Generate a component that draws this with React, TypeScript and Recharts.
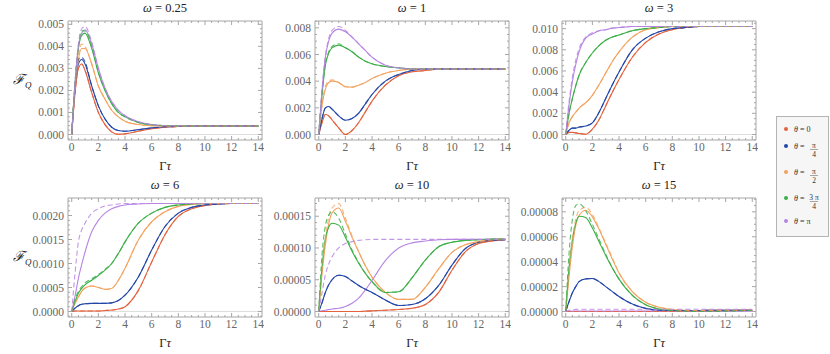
import React from 'react';
import { LineChart, Line, XAxis, YAxis, ReferenceLine } from 'recharts';

// sample times (Γτ)
const TAU = [0, 0.25, 0.5, 0.75, 1, 1.5, 2, 2.5, 3, 3.5, 4, 5, 6, 7, 8, 9, 10, 11, 12, 13, 14];
const X_TICKS = [0, 2, 4, 6, 8, 10, 12, 14];
const THETA_LABELS = [['0'], ['π', '4'], ['π', '2'], ['3 π', '4'], ['π']];
// order of every series list: θ = 0, π/4, π/2, 3π/4, π
const COLORS = ['#E4633F', '#2347A8', '#F3A35F', '#3BAF46', '#B785E2'];

// ω = 0.25
const W025_SOLID = [
  [0, 0.0019, 0.003, 0.0032, 0.0029, 0.0019, 0.001, 0.00045, 0.00012, 0.00001, 0.00003, 0.00015, 0.00026, 0.00033, 0.00036, 0.00037, 0.00038, 0.00038, 0.00038, 0.00038, 0.00038],
  [0, 0.0021, 0.0032, 0.0034, 0.0032, 0.0022, 0.0013, 0.0007, 0.00033, 0.00018, 0.00015, 0.00022, 0.0003, 0.00035, 0.00037, 0.00038, 0.00038, 0.00038, 0.00038, 0.00038, 0.00038],
  [0, 0.0021, 0.0034, 0.0039, 0.0039, 0.0032, 0.0022, 0.0016, 0.0011, 0.0008, 0.0006, 0.00045, 0.0004, 0.00039, 0.00038, 0.00038, 0.00038, 0.00038, 0.00038, 0.00038, 0.00038],
  [0, 0.0023, 0.0039, 0.0045, 0.0046, 0.0039, 0.0028, 0.002, 0.0014, 0.001, 0.0008, 0.00055, 0.00044, 0.0004, 0.00039, 0.00038, 0.00038, 0.00038, 0.00038, 0.00038, 0.00038],
  [0, 0.0023, 0.004, 0.0046, 0.00475, 0.0041, 0.003, 0.0021, 0.0015, 0.0011, 0.00085, 0.00058, 0.00045, 0.0004, 0.00039, 0.00038, 0.00038, 0.00038, 0.00038, 0.00038, 0.00038],
];
const W025_DASHED = [
  W025_SOLID[0],
  [0, 0.0022, 0.0034, 0.0035, 0.0033, 0.0022, 0.0013, 0.0007, 0.00033, 0.00018, 0.00015, 0.00022, 0.0003, 0.00035, 0.00037, 0.00038, 0.00038, 0.00038, 0.00038, 0.00038, 0.00038],
  [0, 0.0022, 0.0036, 0.0041, 0.004, 0.0032, 0.0022, 0.0016, 0.0011, 0.0008, 0.0006, 0.00045, 0.0004, 0.00039, 0.00038, 0.00038, 0.00038, 0.00038, 0.00038, 0.00038, 0.00038],
  [0, 0.0024, 0.004, 0.0047, 0.0047, 0.004, 0.0028, 0.002, 0.0014, 0.001, 0.0008, 0.00055, 0.00044, 0.0004, 0.00039, 0.00038, 0.00038, 0.00038, 0.00038, 0.00038, 0.00038],
  [0, 0.0024, 0.0041, 0.0048, 0.0049, 0.0042, 0.003, 0.0021, 0.0015, 0.0011, 0.00085, 0.00058, 0.00045, 0.0004, 0.00039, 0.00038, 0.00038, 0.00038, 0.00038, 0.00038, 0.00038],
];

// ω = 1
const W1_SOLID = [
  [0, 0.0009, 0.0015, 0.0014, 0.0011, 0.0005, 0, 0.0003, 0.0009, 0.0017, 0.0025, 0.0037, 0.0044, 0.0047, 0.0048, 0.0049, 0.0049, 0.0049, 0.0049, 0.0049, 0.0049],
  [0, 0.0012, 0.002, 0.0021, 0.0019, 0.0014, 0.00107, 0.0012, 0.0016, 0.0023, 0.003, 0.004, 0.0045, 0.0048, 0.0049, 0.0049, 0.0049, 0.0049, 0.0049, 0.0049, 0.0049],
  [0, 0.0022, 0.0034, 0.0039, 0.004, 0.0039, 0.00358, 0.00355, 0.0037, 0.0039, 0.0042, 0.0046, 0.0048, 0.0049, 0.0049, 0.0049, 0.0049, 0.0049, 0.0049, 0.0049, 0.0049],
  [0, 0.003, 0.0052, 0.0061, 0.0065, 0.0067, 0.0065, 0.0062, 0.0058, 0.0055, 0.0053, 0.0051, 0.005, 0.0049, 0.0049, 0.0049, 0.0049, 0.0049, 0.0049, 0.0049, 0.0049],
  [0, 0.0033, 0.0058, 0.007, 0.0076, 0.0079, 0.0077, 0.0073, 0.0068, 0.0063, 0.0058, 0.0052, 0.005, 0.0049, 0.0049, 0.0049, 0.0049, 0.0049, 0.0049, 0.0049, 0.0049],
];
const W1_DASHED = [
  W1_SOLID[0],
  W1_SOLID[1],
  [0, 0.0023, 0.0036, 0.004, 0.0041, 0.0039, 0.00358, 0.00355, 0.0037, 0.0039, 0.0042, 0.0046, 0.0048, 0.0049, 0.0049, 0.0049, 0.0049, 0.0049, 0.0049, 0.0049, 0.0049],
  [0, 0.0031, 0.0053, 0.0062, 0.0066, 0.0068, 0.0065, 0.0062, 0.0058, 0.0055, 0.0053, 0.0051, 0.005, 0.0049, 0.0049, 0.0049, 0.0049, 0.0049, 0.0049, 0.0049, 0.0049],
  [0, 0.0034, 0.0059, 0.0072, 0.0078, 0.0081, 0.0078, 0.0073, 0.0068, 0.0063, 0.0058, 0.0052, 0.005, 0.0049, 0.0049, 0.0049, 0.0049, 0.0049, 0.0049, 0.0049, 0.0049],
];

// ω = 3
const W3_SOLID = [
  [0, 0.0002, 0.0002, 0.00015, 0.0001, 0.00003, 0.0005, 0.0014, 0.0027, 0.004, 0.0052, 0.0073, 0.0087, 0.0095, 0.0099, 0.0101, 0.0102, 0.0102, 0.0102, 0.0102, 0.0102],
  [0, 0.0004, 0.0006, 0.0006, 0.0007, 0.0008, 0.0011, 0.0021, 0.0034, 0.0047, 0.0059, 0.008, 0.0091, 0.0097, 0.01, 0.0101, 0.0102, 0.0102, 0.0102, 0.0102, 0.0102],
  [0, 0.0011, 0.0017, 0.0021, 0.0025, 0.003, 0.0037, 0.0047, 0.0058, 0.0069, 0.0078, 0.0092, 0.0099, 0.0101, 0.0102, 0.0102, 0.0102, 0.0102, 0.0102, 0.0102, 0.0102],
  [0, 0.002, 0.0034, 0.0046, 0.0056, 0.0068, 0.0077, 0.0084, 0.0089, 0.0092, 0.0094, 0.0098, 0.01, 0.0101, 0.0102, 0.0102, 0.0102, 0.0102, 0.0102, 0.0102, 0.0102],
  [0, 0.0028, 0.005, 0.0066, 0.0078, 0.0091, 0.0095, 0.0098, 0.0099, 0.01005, 0.0101, 0.0102, 0.0102, 0.0102, 0.0102, 0.0102, 0.0102, 0.0102, 0.0102, 0.0102, 0.0102],
];
const W3_DASHED = [
  W3_SOLID[0],
  W3_SOLID[1],
  W3_SOLID[2],
  W3_SOLID[3],
  [0, 0.0031, 0.0054, 0.007, 0.0081, 0.0092, 0.0096, 0.0098, 0.0099, 0.01005, 0.0101, 0.0102, 0.0102, 0.0102, 0.0102, 0.0102, 0.0102, 0.0102, 0.0102, 0.0102, 0.0102],
];

// ω = 6
const W6_SOLID = [
  [0, 0.00001, 0.00001, 0.00001, 0.00001, 0.00001, 0.00001, 0.00002, 0.00003, 0.00005, 0.0001, 0.00044, 0.00103, 0.0016, 0.00198, 0.00214, 0.00221, 0.00224, 0.00225, 0.00225, 0.00225],
  [0, 0.00007, 0.00012, 0.00015, 0.00016, 0.00017, 0.00017, 0.00017, 0.00018, 0.00023, 0.00034, 0.00072, 0.00128, 0.00177, 0.00205, 0.00217, 0.00222, 0.00224, 0.00225, 0.00225, 0.00225],
  [0, 0.00017, 0.0003, 0.00042, 0.00049, 0.00053, 0.0005, 0.00046, 0.00048, 0.00065, 0.0009, 0.00149, 0.00187, 0.00208, 0.00219, 0.00223, 0.00225, 0.00225, 0.00225, 0.00225, 0.00225],
  [0, 0.0002, 0.00038, 0.00048, 0.00056, 0.00065, 0.00075, 0.00086, 0.001, 0.00121, 0.00145, 0.00184, 0.00205, 0.00217, 0.00222, 0.00224, 0.00225, 0.00225, 0.00225, 0.00225, 0.00225],
  [0, 0.00032, 0.00069, 0.00098, 0.00124, 0.00166, 0.0019, 0.00205, 0.00214, 0.00219, 0.00222, 0.00224, 0.00225, 0.00225, 0.00225, 0.00225, 0.00225, 0.00225, 0.00225, 0.00225, 0.00225],
];
const W6_DASHED = [
  W6_SOLID[0],
  W6_SOLID[1],
  W6_SOLID[2],
  [0, 0.00025, 0.00042, 0.00052, 0.0006, 0.00068, 0.00077, 0.00088, 0.001, 0.00121, 0.00145, 0.00184, 0.00205, 0.00217, 0.00222, 0.00224, 0.00225, 0.00225, 0.00225, 0.00225, 0.00225],
  [0, 0.0008, 0.00145, 0.0017, 0.00184, 0.00205, 0.00214, 0.0022, 0.00222, 0.00224, 0.00225, 0.00225, 0.00225, 0.00225, 0.00225, 0.00225, 0.00225, 0.00225, 0.00225, 0.00225, 0.00225],
];

// ω = 10
const W10_SOLID = [
  [0, 0, 0, 0, 0, 0, 0, 0, 0, 0.0000005, 0.000001, 0.000002, 0.000003, 0.000005, 0.000011, 0.00003, 0.000065, 0.000094, 0.000107, 0.000111, 0.000113],
  [0, 0.000014, 0.00003, 0.000042, 0.00005, 0.000057, 0.000055, 0.000048, 0.000041, 0.000035, 0.00003, 0.000018, 0.0000095, 0.000011, 0.00002, 0.000041, 0.000073, 0.000099, 0.000109, 0.000112, 0.000113],
  [0, 0.00006, 0.000105, 0.000138, 0.000155, 0.000163, 0.000142, 0.000117, 0.000094, 0.000072, 0.000054, 0.00003, 0.000019, 0.000019, 0.000038, 0.000067, 0.000093, 0.000105, 0.00011, 0.000113, 0.000114],
  [0, 0.00007, 0.000115, 0.000133, 0.000139, 0.000136, 0.000117, 0.000095, 0.000076, 0.00006, 0.000047, 0.00003, 0.000031, 0.000053, 0.000081, 0.000102, 0.000109, 0.000112, 0.000113, 0.000114, 0.000114],
  [0, 0.000001, 0.000002, 0.000003, 0.000004, 0.000005, 0.000008, 0.000013, 0.000021, 0.000034, 0.000049, 0.00008, 0.0001, 0.000108, 0.000111, 0.000113, 0.0001135, 0.0001135, 0.0001135, 0.0001135, 0.0001135],
];
const W10_DASHED = [
  W10_SOLID[0],
  W10_SOLID[1],
  [0, 0.000065, 0.000115, 0.000148, 0.000163, 0.00017, 0.000147, 0.000119, 0.000094, 0.000072, 0.000054, 0.00003, 0.000019, 0.000019, 0.000038, 0.000067, 0.000093, 0.000105, 0.00011, 0.000113, 0.000114],
  [0, 0.00009, 0.000135, 0.000152, 0.000157, 0.000147, 0.000122, 0.000097, 0.000077, 0.00006, 0.000047, 0.00003, 0.000031, 0.000053, 0.000081, 0.000102, 0.000109, 0.000112, 0.000113, 0.000114, 0.000114],
  [0, 0.00003, 0.000058, 0.000075, 0.000086, 0.0001, 0.000107, 0.00011, 0.000112, 0.000113, 0.0001135, 0.0001135, 0.0001135, 0.0001135, 0.0001135, 0.0001135, 0.0001135, 0.0001135, 0.0001135, 0.0001135, 0.0001135],
];

// ω = 15
const W15_SOLID = [
  [0, 0, 0, 0, 0, 0, 0, 0, 0, 0, 0, 0, 0, 0, 0, 0.0000003, 0.0000005, 0.0000007, 0.0000008, 0.0000009, 0.000001],
  [0, 0.000008, 0.000015, 0.00002, 0.000024, 0.0000262, 0.0000265, 0.000024, 0.00002, 0.000016, 0.000012, 0.000006, 0.0000025, 0.000001, 0.0000008, 0.0000008, 0.0000008, 0.000001, 0.000001, 0.000001, 0.000001],
  [0, 0.000028, 0.000052, 0.000069, 0.000077, 0.0000813, 0.000076, 0.000066, 0.000054, 0.000042, 0.000031, 0.000016, 0.0000075, 0.0000035, 0.0000016, 0.000001, 0.0000008, 0.000001, 0.000001, 0.000001, 0.000001],
  [0, 0.000035, 0.000058, 0.000071, 0.0000765, 0.0000755, 0.000067, 0.000056, 0.000045, 0.000035, 0.000026, 0.000013, 0.0000055, 0.000002, 0.0000008, 0.0000003, 0, 0, 0.0000003, 0.0000006, 0.000001],
  [0, 0.0000002, 0.0000003, 0.0000003, 0.0000003, 0.0000003, 0.0000003, 0.0000003, 0.0000003, 0.0000003, 0.0000003, 0.0000003, 0.0000003, 0.0000003, 0.0000003, 0.0000003, 0.0000003, 0.0000003, 0.0000003, 0.0000003, 0.0000003],
];
const W15_DASHED = [
  W15_SOLID[0],
  W15_SOLID[1],
  [0, 0.000032, 0.000058, 0.000074, 0.000081, 0.0000835, 0.000078, 0.000067, 0.000055, 0.000043, 0.000031, 0.000016, 0.0000075, 0.0000035, 0.0000016, 0.000001, 0.0000008, 0.000001, 0.000001, 0.000001, 0.000001],
  [0, 0.000047, 0.000074, 0.000085, 0.0000865, 0.000081, 0.00007, 0.000058, 0.000046, 0.000035, 0.000026, 0.000013, 0.0000055, 0.000002, 0.0000008, 0.0000003, 0, 0, 0.0000003, 0.0000006, 0.000001],
  [0, 0.000001, 0.0000015, 0.0000017, 0.0000018, 0.0000018, 0.0000018, 0.0000018, 0.0000018, 0.0000018, 0.0000018, 0.0000018, 0.0000018, 0.0000018, 0.0000018, 0.0000018, 0.0000018, 0.0000018, 0.0000018, 0.0000018, 0.0000018],
];

const Y_TICKS_025 = [0, 0.001, 0.002, 0.003, 0.004, 0.005];
const Y_TICKS_1 = [0, 0.002, 0.004, 0.006, 0.008];
const Y_TICKS_3 = [0, 0.002, 0.004, 0.006, 0.008, 0.01];
const Y_TICKS_6 = [0, 0.0005, 0.001, 0.0015, 0.002];
const Y_TICKS_10 = [0, 0.00005, 0.0001, 0.00015];
const Y_TICKS_15 = [0, 0.00002, 0.00004, 0.00006, 0.00008];

const PANELS = [
  { omega: '0.25', solid: W025_SOLID, dashed: W025_DASHED, domain: [-0.00025, 0.00515], major: Y_TICKS_025, minor: 0.0002, digits: 3 },
  { omega: '1', solid: W1_SOLID, dashed: W1_DASHED, domain: [-0.00041, 0.00851], major: Y_TICKS_1, minor: 0.0005, digits: 3 },
  { omega: '3', solid: W3_SOLID, dashed: W3_DASHED, domain: [-0.00052, 0.01072], major: Y_TICKS_3, minor: 0.0005, digits: 3 },
  { omega: '6', solid: W6_SOLID, dashed: W6_DASHED, domain: [-0.000115, 0.002365], major: Y_TICKS_6, minor: 0.0001, digits: 4 },
  { omega: '10', solid: W10_SOLID, dashed: W10_DASHED, domain: [-0.0000087, 0.0001787], major: Y_TICKS_10, minor: 0.00001, digits: 5 },
  { omega: '15', solid: W15_SOLID, dashed: W15_DASHED, domain: [-0.0000044, 0.0000911], major: Y_TICKS_15, minor: 0.000005, digits: 5 },
];

const FONT = "'Liberation Serif', 'DejaVu Serif', 'Times New Roman', Times, serif";
const FRAME = '#a6a6a6';
const LABEL = '#666666';
const X_DOMAIN = [-0.28, 14.28];
const PLOT_LEFT = 68;
const PLOT_W = 194;
const PLOT_TOP = 21;
const PLOT_H = 119;

const stepTicks = (lo: number, hi: number, step: number) => {
  const out: number[] = [];
  for (let k = Math.ceil(lo / step - 1e-9); k * step <= hi + 1e-12; k++) out.push(k * step);
  return out;
};

const findMajor = (v: number, majors: number[], step: number) =>
  majors.find((m) => Math.abs(m - v) < step * 0.01);

const X_MINOR = stepTicks(0, 14, 0.5);

function PanelChart({ p, left, top, showY }: any) {
  const rows = TAU.map((t, i) => {
    const r: Record<string, number> = { t };
    p.solid.forEach((s: number[], k: number) => (r['s' + k] = s[i]));
    p.dashed.forEach((s: number[], k: number) => (r['d' + k] = s[i]));
    return r;
  });
  const yTicks = stepTicks(p.domain[0], p.domain[1], p.minor);

  const bottomTick = ({ x, y, payload }: any) => {
    const m = findMajor(payload.value, X_TICKS, 0.5);
    return (
      <g>
        <line x1={x} y1={y} x2={x} y2={y - (m !== undefined ? 4 : 2)} stroke={FRAME} />
        {m !== undefined && (
          <text x={x} y={y + 3} dy="0.71em" textAnchor="middle" fill={LABEL} fontSize={11.5} style={{ fontFamily: FONT }}>
            {m}
          </text>
        )}
      </g>
    );
  };
  const topTick = ({ x, y, payload }: any) => {
    const m = findMajor(payload.value, X_TICKS, 0.5);
    return <line x1={x} y1={y} x2={x} y2={y + (m !== undefined ? 4 : 2)} stroke={FRAME} />;
  };
  const leftTick = ({ x, y, payload }: any) => {
    const m = findMajor(payload.value, p.major, p.minor);
    return (
      <g>
        <line x1={x} y1={y} x2={x + (m !== undefined ? 4 : 2)} y2={y} stroke={FRAME} />
        {m !== undefined && (
          <text x={x - 4} y={y} dy="0.35em" textAnchor="end" fill={LABEL} fontSize={11.5} style={{ fontFamily: FONT }}>
            {m.toFixed(p.digits)}
          </text>
        )}
      </g>
    );
  };
  const rightTick = ({ x, y, payload }: any) => {
    const m = findMajor(payload.value, p.major, p.minor);
    return <line x1={x} y1={y} x2={x - (m !== undefined ? 4 : 2)} y2={y} stroke={FRAME} />;
  };

  return (
    <div style={{ position: 'absolute', left, top, width: 264, height: 172, fontFamily: FONT }}>
      <div
        style={{
          position: 'absolute', left: PLOT_LEFT, top: 0, width: PLOT_W, textAlign: 'center',
          fontSize: 12.5, lineHeight: '16px', color: '#222',
        }}
      >
        <i>ω</i> = {p.omega}
      </div>
      {showY && (
        <div
          style={{
            position: 'absolute', left: 13, top: PLOT_TOP + PLOT_H / 2 - 10, fontSize: 14,
            lineHeight: '18px', color: '#222', fontStyle: 'italic',
          }}
        >
          ℱ<sub style={{ fontSize: 9 }}>Q</sub>
        </div>
      )}
      <div
        style={{
          position: 'absolute', left: PLOT_LEFT, top: PLOT_TOP + PLOT_H + 18, width: PLOT_W, textAlign: 'center',
          fontSize: 12.5, lineHeight: '16px', color: '#222',
        }}
      >
        Γ<i>τ</i>
      </div>
      <div style={{ position: 'absolute', left: 0, top: 0 }}>
        <LineChart width={264} height={170} data={rows} margin={{ top: 0, right: 0, bottom: 0, left: 0 }}>
          <XAxis
            dataKey="t" type="number" domain={X_DOMAIN} allowDataOverflow ticks={X_MINOR} interval={0}
            height={30} tickSize={0} tickMargin={0} tickLine={false} axisLine={{ stroke: FRAME }} tick={bottomTick}
          />
          <XAxis
            xAxisId="top" orientation="top" dataKey="t" type="number" domain={X_DOMAIN} allowDataOverflow
            ticks={X_MINOR} interval={0} height={PLOT_TOP} tickSize={0} tickMargin={0} tickLine={false}
            axisLine={{ stroke: FRAME }} tick={topTick}
          />
          <YAxis
            type="number" domain={p.domain} allowDataOverflow ticks={yTicks} interval={0} width={PLOT_LEFT}
            tickSize={0} tickMargin={0} tickLine={false} axisLine={{ stroke: FRAME }} tick={leftTick}
          />
          <YAxis
            yAxisId="right" orientation="right" type="number" domain={p.domain} allowDataOverflow ticks={yTicks}
            interval={0} width={2} tickSize={0} tickMargin={0} tickLine={false} axisLine={{ stroke: FRAME }}
            tick={rightTick}
          />
          <ReferenceLine y={0} stroke="#dedede" />
          {p.solid.map((_: number[], k: number) => (
            <Line
              key={'s' + k} dataKey={'s' + k} type="monotone" stroke={COLORS[k]} strokeWidth={1.1}
              dot={false} activeDot={false} isAnimationActive={false}
            />
          ))}
          {p.dashed.map((_: number[], k: number) => (
            <Line
              key={'d' + k} dataKey={'d' + k} type="monotone" stroke={COLORS[k]} strokeWidth={1.1}
              strokeDasharray="5 3" strokeOpacity={0.85} dot={false} activeDot={false} isAnimationActive={false}
            />
          ))}
        </LineChart>
      </div>
    </div>
  );
}

function ThetaLegend() {
  const rowsY = [13, 30, 56, 82, 105];
  return (
    <svg width={54} height={122} style={{ position: 'absolute', left: 776, top: 116, fontFamily: FONT }}>
      <rect x={0.5} y={0.5} width={52} height={120} fill="#f6f6f6" stroke="#b4b4b4" />
      {THETA_LABELS.map((lab, i) => {
        const cy = rowsY[i];
        return (
          <g key={i} fill="#333">
            <circle cx={10} cy={cy} r={2} fill={COLORS[i]} />
            <text x={18} y={cy + 2.5} fontSize={8}>
              <tspan fontStyle="italic">θ</tspan> = {lab.length === 1 ? lab[0] : ''}
            </text>
            {lab.length === 2 && (
              <g>
                <text x={38} y={cy + 1.5} fontSize={7.5} textAnchor="middle">{lab[0]}</text>
                <line x1={34} x2={42} y1={cy + 3.5} y2={cy + 3.5} stroke="#555" strokeWidth={0.5} />
                <text x={38} y={cy + 11} fontSize={7.5} textAnchor="middle">{lab[1]}</text>
              </g>
            )}
          </g>
        );
      })}
    </svg>
  );
}

export default function App() {
  return (
    <div style={{ position: 'absolute', left: 0, top: 0, width: 830, height: 354, background: '#fff', overflow: 'hidden' }}>
      {PANELS.map((p, i) => (
        <PanelChart key={i} p={p} left={(i % 3) * 247} top={Math.floor(i / 3) * 177} showY={i % 3 === 0} />
      ))}
      <ThetaLegend />
    </div>
  );
}
